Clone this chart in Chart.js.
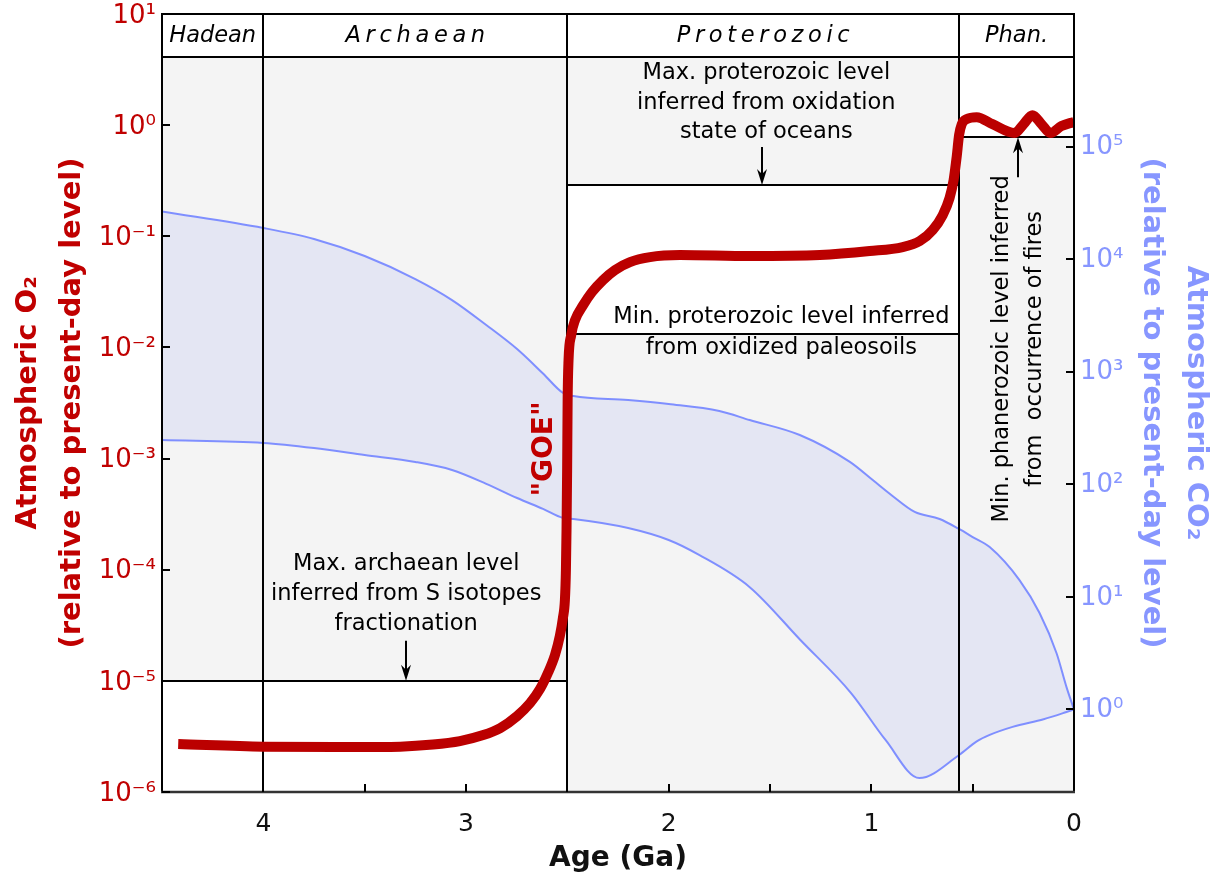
<!DOCTYPE html>
<html><head><meta charset="utf-8">
<script src="https://cdn.jsdelivr.net/npm/chart.js@4.4.1/dist/chart.umd.min.js"></script>
<style>html,body{margin:0;padding:0;background:#fff;}#wrap{width:1221px;height:876px;}</style>
</head><body><div id="wrap"><canvas id="c" width="1221" height="876"></canvas></div>
<script>
// ---------------- data ----------------
const ageO2   = [4.42, 4.0, 3.571, 3.325, 3.163, 3.03, 2.915, 2.831, 2.748, 2.684, 2.635, 2.596, 2.561, 2.537, 2.522, 2.512, 2.507, 2.504, 2.501, 2.4985, 2.494, 2.481, 2.462, 2.422, 2.378, 2.324, 2.265, 2.191, 2.092, 1.944, 1.6, 1.254, 1.008, 0.845, 0.761, 0.697, 0.648, 0.614, 0.594, 0.579, 0.567, 0.554, 0.53, 0.48, 0.402, 0.293, 0.249, 0.205, 0.16, 0.116, 0.062, 0.0];
const o2Level = [2.7e-6, 2.56e-6, 2.54e-6, 2.56e-6, 2.67e-6, 2.87e-6, 3.25e-6, 3.76e-6, 4.82e-6, 6.3e-6, 8.43e-6, 1.175e-5, 1.71e-5, 2.53e-5, 3.67e-5, 5.33e-5, 9.93e-5, 2.28e-4, 7.9e-4, 3.36e-3, 7.7e-3, 0.0129, 0.0176, 0.0240, 0.0315, 0.0404, 0.0497, 0.0586, 0.0650, 0.0678, 0.0664, 0.0678, 0.0736, 0.080, 0.0906, 0.114, 0.155, 0.221, 0.321, 0.516, 0.814, 1.02, 1.135, 1.18, 1.02, 0.849, 1.02, 1.23, 1.02, 0.849, 0.98, 1.07];

const ageCO2Upper = [4.5, 4.0, 3.75, 3.5, 3.25, 3.069, 2.9, 2.748, 2.62, 2.521, 2.47, 2.2, 2.0, 1.75, 1.6, 1.353, 1.106, 0.993, 0.9, 0.786, 0.663, 0.567, 0.5, 0.416, 0.269, 0.17, 0.086, 0.037, 0.0];
const co2Upper    = [26500, 18900, 15100, 10650, 6650, 4330, 2600, 1590, 964, 647, 608, 561, 517, 448, 372, 274, 158, 109, 80, 56.8, 49.2, 40.1, 34, 27.7, 14.1, 7.19, 3.16, 1.58, 1.0];
const ageCO2Lower = [4.5, 4.0, 3.75, 3.5, 3.25, 3.069, 2.9, 2.748, 2.62, 2.521, 2.47, 2.2, 2.0, 1.85, 1.6, 1.35, 1.1, 0.93, 0.763, 0.567, 0.48, 0.416, 0.303, 0.15, 0.037, 0.0];
const co2Lower    = [247, 233, 210, 182, 158, 134, 101, 75.5, 60.4, 50.2, 49.2, 40.9, 32.0, 23.6, 12.2, 4.14, 1.40, 0.536, 0.246, 0.394, 0.52, 0.594, 0.70, 0.82, 0.95, 1.0];

const eraNames = ['Hadean', 'A r c h a e a n', 'P r o t e r o z o i c', 'Phan.'];
const eraStart = [4.5, 4.0, 2.5, 0.567];
const eraEnd   = [4.0, 2.5, 0.567, 0.0];

const limitFrom  = [4.5, 2.5, 2.5, 0.567];
const limitTo    = [2.5, 0.567, 0.567, 0.0];
const limitLevel = [1e-5, 0.29, 0.0132, 0.78];
const limitKind  = ['max', 'max', 'min', 'min'];

const ageTickLabels = [4, 3, 2, 1, 0];
const o2Ticks  = [1e-6, 1e-5, 1e-4, 1e-3, 1e-2, 1e-1, 1e0, 1e1];
const co2Ticks = [1e0, 1e1, 1e2, 1e3, 1e4, 1e5];

// ---------------- styles / layout ----------------
const FONT = '"DejaVu Sans", Verdana, sans-serif';
const RED = '#bb0000', RED_TXT = '#c00000';
const BLUE = '#7f8fff', BLUE_TXT = '#8796ff', BAND = 'rgb(228,230,243)';
const GRAY = '#f4f4f4';
const HEADER_PX = 43;

const SUP = {'-':'⁻','0':'⁰','1':'¹','2':'²','3':'³','4':'⁴','5':'⁵','6':'⁶','7':'⁷','8':'⁸','9':'⁹'};
const decadeLabel = v => '10' + String(Math.round(Math.log10(v))).split('').map(c => SUP[c]).join('');

const notes = [
  {lines:['Max. archaean level','inferred from S isotopes','fractionation'], age:3.295, level:6.04e-5, spacing:30},
  {lines:['Max. proterozoic level','inferred from oxidation','state of oceans'], age:1.518, level:1.58, spacing:29.5},
  {lines:['Min. proterozoic level inferred','from oxidized paleosoils'], age:1.444, level:0.01345, spacing:31},
  {lines:['Min. phanerozoic level inferred','from  occurrence of fires'], age:0.274, level:0.0097, spacing:33, rotate:-Math.PI/2}
];
const arrows = [
  {age:3.295, level:1e-5, len:40, dir:'down'},
  {age:1.540, level:0.29, len:38, dir:'down'},
  {age:0.278, level:0.78, len:40, dir:'up'}
];
const goeNote = {text:'"GOE"', age:2.612, level:1.22e-3};

function drawLines(ctx, lines, cx, cy, spacing, font, color, rot) {
  ctx.save();
  ctx.translate(cx, cy);
  if (rot) ctx.rotate(rot);
  ctx.font = font; ctx.fillStyle = color; ctx.textAlign = 'center'; ctx.textBaseline = 'middle';
  const n = lines.length;
  lines.forEach((t, i) => ctx.fillText(t, 0, (i - (n - 1) / 2) * spacing));
  ctx.restore();
}
function drawArrow(ctx, x, tipY, len, dir) {
  const s = dir === 'down' ? 1 : -1;
  const tailY = tipY - s * len;
  ctx.save();
  ctx.strokeStyle = '#000'; ctx.fillStyle = '#000'; ctx.lineWidth = 2;
  ctx.beginPath(); ctx.moveTo(x, tailY); ctx.lineTo(x, tipY - s * 8); ctx.stroke();
  ctx.beginPath(); ctx.moveTo(x, tipY); ctx.lineTo(x - 5, tipY - s * 16); ctx.lineTo(x, tipY - s * 11); ctx.lineTo(x + 5, tipY - s * 16); ctx.closePath(); ctx.fill();
  ctx.restore();
}

const geoPlugin = {
  id: 'geo',
  beforeDatasetsDraw(chart) {
    const {ctx, chartArea: a, scales: {x, y}} = chart;
    const hb = a.top + HEADER_PX;
    ctx.save();
    ctx.fillStyle = GRAY;
    limitLevel.forEach((lv, i) => {
      const x1 = x.getPixelForValue(limitFrom[i]), x2 = x.getPixelForValue(limitTo[i]);
      const yl = y.getPixelForValue(lv);
      if (limitKind[i] === 'max') ctx.fillRect(x1, hb, x2 - x1, yl - hb);
      else ctx.fillRect(x1, yl, x2 - x1, a.bottom - yl);
    });
    ctx.restore();
  },
  beforeDatasetDraw(chart, args) {
    if (args.index !== 0) return;
    const {ctx, chartArea: a, scales: {x, y}} = chart;
    const hb = a.top + HEADER_PX;
    ctx.save();
    ctx.strokeStyle = '#000'; ctx.lineWidth = 2;
    ctx.beginPath(); ctx.moveTo(a.left, hb); ctx.lineTo(a.right, hb); ctx.stroke();
    eraStart.slice(1).forEach(ag => {
      const px = Math.round(x.getPixelForValue(ag));
      ctx.beginPath(); ctx.moveTo(px, a.top); ctx.lineTo(px, a.bottom); ctx.stroke();
    });
    limitLevel.forEach((lv, i) => {
      const yl = Math.round(y.getPixelForValue(lv));
      ctx.beginPath(); ctx.moveTo(x.getPixelForValue(limitFrom[i]), yl); ctx.lineTo(x.getPixelForValue(limitTo[i]), yl); ctx.stroke();
    });
    ctx.restore();
    eraNames.forEach((n, i) => {
      ctx.save();
      ctx.wordSpacing = '-2.5px';
      drawLines(ctx, [n], (x.getPixelForValue(eraStart[i]) + x.getPixelForValue(eraEnd[i])) / 2, a.top + 22, 0, 'italic 22.5px ' + FONT, '#000');
      ctx.restore();
    });
    notes.forEach(nt => drawLines(ctx, nt.lines, x.getPixelForValue(nt.age), y.getPixelForValue(nt.level), nt.spacing, '22.5px ' + FONT, '#000', nt.rotate));
    arrows.forEach(ar => drawArrow(ctx, Math.round(x.getPixelForValue(ar.age)), y.getPixelForValue(ar.level), ar.len, ar.dir));
    drawLines(ctx, [goeNote.text], x.getPixelForValue(goeNote.age), y.getPixelForValue(goeNote.level), 0, 'bold 28px ' + FONT, RED_TXT, -Math.PI / 2);
  },
  afterDatasetsDraw(chart) {
    const {ctx, chartArea: a, scales: {x, y, y2}} = chart;
    ctx.save();
    ctx.strokeStyle = '#000'; ctx.lineWidth = 2;
    ctx.beginPath();
    ctx.moveTo(a.left, a.bottom); ctx.lineTo(a.left, a.top); ctx.lineTo(a.right, a.top); ctx.lineTo(a.right, a.bottom);
    ctx.stroke();
    ctx.strokeStyle = '#333'; ctx.lineWidth = 2.5;
    ctx.beginPath(); ctx.moveTo(a.left - 1, a.bottom); ctx.lineTo(a.right + 1, a.bottom); ctx.stroke();
    ctx.strokeStyle = '#000'; ctx.lineWidth = 2;
    x.ticks.forEach(t => {
      if (t.value <= x.min || t.value >= x.max) return;
      const px = Math.round(x.getPixelForValue(t.value));
      ctx.beginPath(); ctx.moveTo(px, a.bottom); ctx.lineTo(px, a.bottom - 8); ctx.stroke();
    });
    y.ticks.forEach(t => {
      const py = Math.round(y.getPixelForValue(t.value));
      ctx.beginPath(); ctx.moveTo(a.left, py); ctx.lineTo(a.left + 8, py); ctx.stroke();
    });
    y2.ticks.forEach(t => {
      const py = Math.round(y2.getPixelForValue(t.value));
      ctx.beginPath(); ctx.moveTo(a.right, py); ctx.lineTo(a.right - 8, py); ctx.stroke();
    });
    ctx.restore();
  }
};

const toXY = (xs, ys) => xs.map((v, i) => ({x: v, y: ys[i]}));

new Chart(document.getElementById('c'), {
  type: 'line',
  data: {
    datasets: [
      {label: 'O2', data: toXY(ageO2, o2Level), yAxisID: 'y', borderColor: RED, borderWidth: 10,
       pointRadius: 0, cubicInterpolationMode: 'monotone', fill: false, borderCapStyle: 'butt', borderJoinStyle: 'round'},
      {label: 'CO2 upper', data: toXY(ageCO2Upper, co2Upper), yAxisID: 'y2', borderColor: BLUE, borderWidth: 2,
       pointRadius: 0, cubicInterpolationMode: 'monotone', fill: false},
      {label: 'CO2 lower', data: toXY(ageCO2Lower, co2Lower), yAxisID: 'y2', borderColor: BLUE, borderWidth: 2,
       pointRadius: 0, cubicInterpolationMode: 'monotone', fill: '-1', backgroundColor: BAND}
    ]
  },
  options: {
    responsive: false, animation: false, devicePixelRatio: 1,
    layout: {padding: {top: 14, left: 0, right: 0, bottom: 0}},
    plugins: {legend: {display: false}, tooltip: {enabled: false}},
    scales: {
      x: {
        type: 'linear', min: 0, max: 4.5, reverse: true, position: 'bottom',
        afterBuildTicks: s => { const t = []; for (let v = 0; v <= 4.5001; v += 0.5) t.push({value: Math.round(v * 10) / 10}); s.ticks = t; },
        ticks: {autoSkip: false, maxRotation: 0, padding: 17, color: '#111', font: {family: FONT, size: 25},
                callback: v => ageTickLabels.includes(v) ? String(v) : ''},
        grid: {display: false, drawTicks: false}, border: {display: false},
        title: {display: true, text: 'Age (Ga)', color: '#111', font: {family: FONT, size: 28, weight: 'bold'}, padding: {top: 0, bottom: 0}},
        afterFit: s => { s.height = 84; }
      },
      y: {
        type: 'logarithmic', position: 'left', min: 1e-6, max: 10,
        afterBuildTicks: s => { s.ticks = o2Ticks.map(v => ({value: v})); },
        ticks: {padding: 6, labelOffset: 2, color: RED_TXT, font: {family: FONT, size: 26, lineHeight: 0.5}, callback: v => decadeLabel(v)},
        grid: {display: false, drawTicks: false}, border: {display: false},
        title: {display: true, text: ['Atmospheric O₂', '(relative to present-day level)'], color: RED_TXT,
                font: {family: FONT, size: 29, weight: 'bold', lineHeight: 1.5}, padding: {top: 7, bottom: 0}},
        afterFit: s => { s.width = 162; }
      },
      y2: {
        type: 'logarithmic', position: 'right', min: Math.pow(10, -0.733), max: Math.pow(10, 6.177),
        afterBuildTicks: s => { s.ticks = co2Ticks.map(v => ({value: v})); },
        ticks: {padding: 6, labelOffset: 1, color: BLUE_TXT, font: {family: FONT, size: 26, lineHeight: 0.5}, callback: v => decadeLabel(v)},
        grid: {display: false, drawTicks: false}, border: {display: false},
        title: {display: true, text: ['Atmospheric CO₂', '(relative to present-day level)'], color: BLUE_TXT,
                font: {family: FONT, size: 29, weight: 'bold', lineHeight: 1.5}, padding: {top: 4, bottom: 0}},
        afterFit: s => { s.width = 147; }
      }
    }
  },
  plugins: [geoPlugin]
});
</script>
</body></html>
